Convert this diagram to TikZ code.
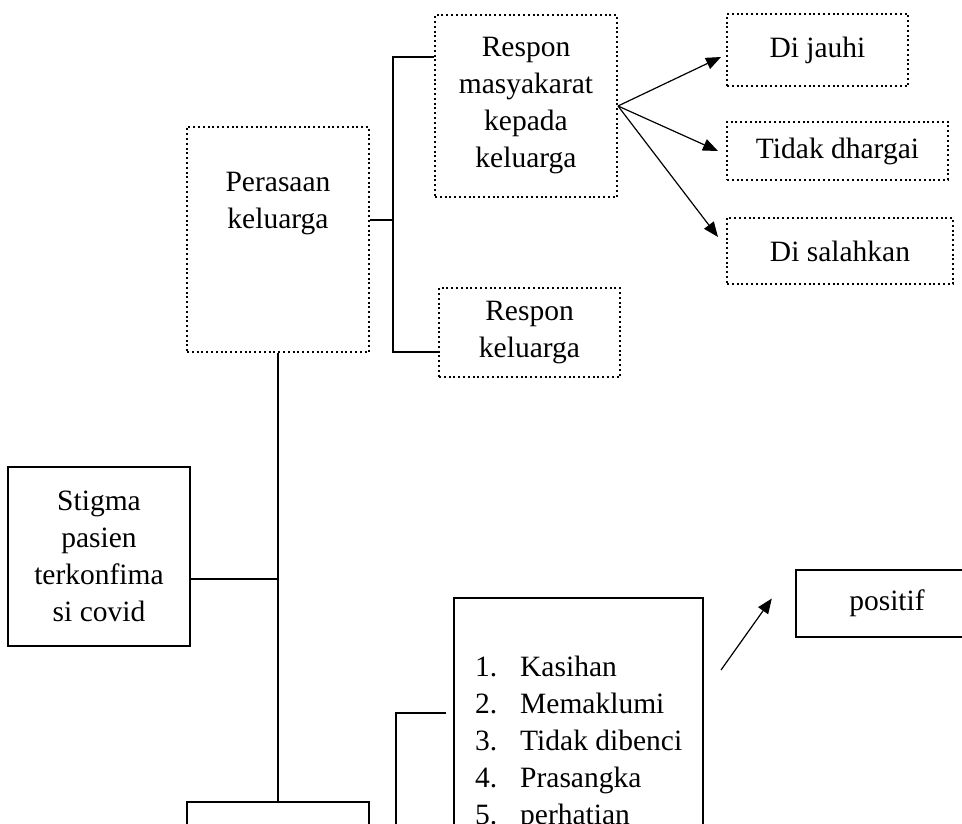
\documentclass[tikz,border=0pt]{standalone}
\usepackage{fontspec}
\setmainfont{Liberation Serif}
\usetikzlibrary{arrows.meta}

\begin{document}
\begin{tikzpicture}[x=1pt, y=-1pt, inner sep=0pt, font=\fontsize{29.5}{37}\selectfont,
  titik/.style={draw, line width=2pt, dash pattern=on 2pt off 2.8pt, minimum width=182pt, align=center},
  kotak/.style={draw, line width=2.4pt, minimum width=182pt, align=center},
  garis/.style={line width=1.2pt},
  panah/.style={line width=1.2pt, -{Triangle[length=15pt,width=12pt]}}]
\useasboundingbox (0,0) rectangle (962,824);
\clip (0,0) rectangle (962,824);
\node (perasaan) at (278,239.5) [titik, minimum height=225pt] {};
\node (perasaanteks) at (278,204) [align=center] {Perasaan\\keluarga};
\node (respon) at (526,106) [titik, minimum height=182pt] {Respon\\masyakarat\\kepada\\keluarga};
\node (responkel) at (529.5,332.5) [titik, minimum width=181pt, minimum height=89pt] {Respon\\keluarga};
\node (dijauhi) at (817.5,50) [titik, minimum width=181pt, minimum height=72pt] {Di jauhi};
\node (tidak) at (837.5,151) [titik, minimum width=221pt, minimum height=58pt] {Tidak dhargai};
\node (salahkan) at (840,251) [titik, minimum width=226pt, minimum height=66pt] {Di salahkan};
\node (stigma) at (99,556.5) [kotak, minimum height=179pt] {Stigma\\pasien\\terkonfima\\si covid};
\node (positif) at (887,603.5) [kotak, minimum height=67pt] {positif};
\node (daftar) at (578.5,740) [kotak, minimum width=249pt, minimum height=284pt] {};
\node (daftarteks) at (475,656) [anchor=north west, align=left] {\makebox[45pt][l]{1.}Kasihan\\
  \makebox[45pt][l]{2.}Memaklumi\\
  \makebox[45pt][l]{3.}Tidak dibenci\\
  \makebox[45pt][l]{4.}Prasangka\\
  \makebox[45pt][l]{5.}perhatian};
\node (bawah) at (278,860) [kotak, minimum height=116pt] {};
% garis penghubung
\coordinate (cabang) at (393,220);
\coordinate (cabangatas) at (393,57);
\coordinate (cabangbawah) at (393,352);
\coordinate (simpang) at (278,579);
\coordinate (siku) at (396,713);
\coordinate (sikubawah) at (396,830);
\coordinate (pangkal) at (721,670);
\draw[garis] (perasaan.south) -- (bawah.north);
\draw[garis] (stigma.east |- simpang) -- (simpang);
\draw[garis] (perasaan.east |- cabang) -- (cabang);
\draw[garis] (respon.west |- cabangatas) -- (cabangatas) -- (cabangbawah) -- (responkel.west |- cabangbawah);
\draw[garis] (sikubawah) -- (siku) -- ([xshift=-7pt]daftar.west |- siku);
\draw[panah] (respon.east) -- ([xshift=-5pt,yshift=-7pt]dijauhi.west);
\draw[panah] (respon.east) -- ([xshift=-8pt]tidak.west);
\draw[panah] (respon.east) -- ([xshift=-8pt,yshift=14pt]salahkan.west);
\draw[panah] (pangkal) -- ([xshift=-23pt,yshift=5pt]positif.west);
\end{tikzpicture}
\end{document}
